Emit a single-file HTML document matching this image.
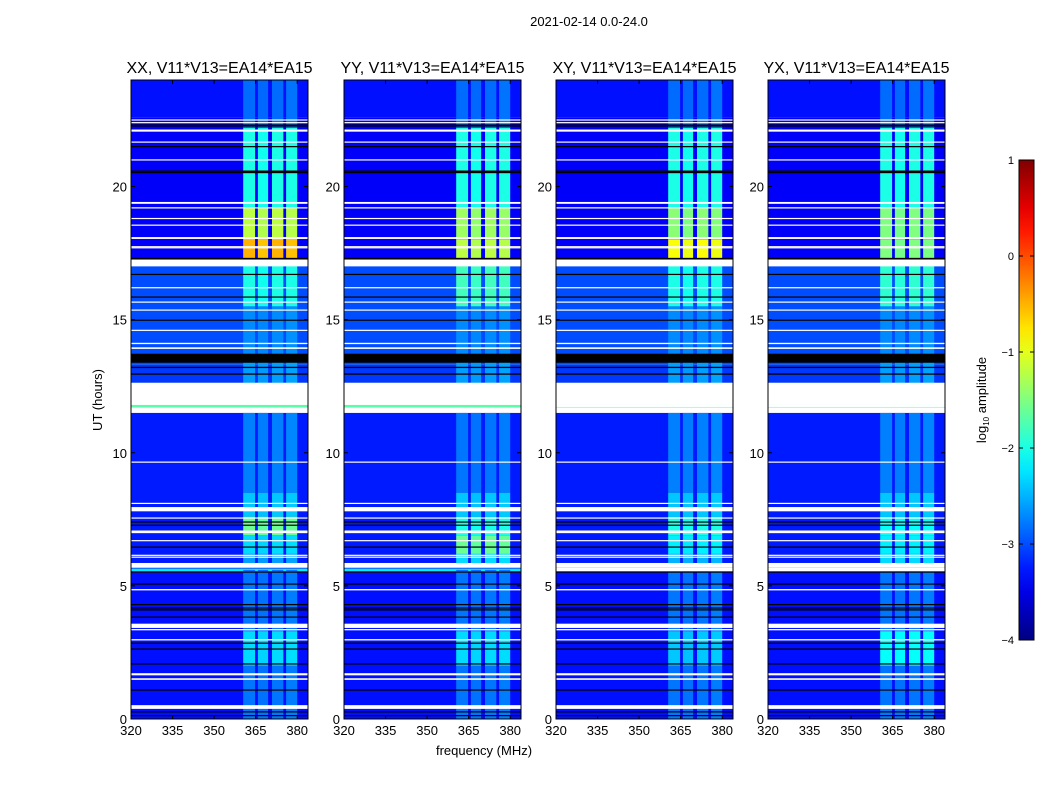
<!DOCTYPE html>
<html><head><meta charset="utf-8"><style>
body{margin:0;background:#fff;font-family:"Liberation Sans",sans-serif}
svg text{font-family:"Liberation Sans",sans-serif}
</style></head><body>
<svg id="fig" width="1050" height="800" xmlns="http://www.w3.org/2000/svg">
<rect width="1050" height="800" fill="#fff"/>
<text x="589" y="26" font-size="13" text-anchor="middle">2021-02-14 0.0-24.0</text>
<text transform="translate(102,400) rotate(-90)" font-size="13" text-anchor="middle">UT (hours)</text>
<text x="484" y="755" font-size="13" text-anchor="middle">frequency (MHz)</text>
<g id="panels"></g>
<g id="cbar"></g>
</svg>
<script>
const panelTitles = ["XX, V11*V13=EA14*EA15","YY, V11*V13=EA14*EA15","XY, V11*V13=EA14*EA15","YX, V11*V13=EA14*EA15"];
const xTicks = [320,335,350,365,380];
const yTicks = [0,5,10,15,20];
const cbTicks = [1,0,-1,-2,-3,-4];
// background log10 amplitude segments [start hour, end hour, value]
const bgSegs = [[0,5.6,-3.3],[5.55,5.65,-2.2],[5.65,11.5,-3.25],[11.7,11.8,-1.7],[12.6,13.3,-3.1],[13.3,17.3,-3.0],[17.3,22.6,-3.4],[22.6,24,-3.3]];
// RFI sub-bands [start MHz, end MHz, relative weight]
const bands = [[360.5,364.8,1.0],[365.8,369.5,0.97],[370.9,375,1.0],[376,380,0.95]];
// RFI band level per panel: [start hour, end hour, value]
const bandXX = [[0,2,-2.8],[2,3.3,-2.3],[3.3,5.6,-2.8],[5.8,6.2,-2.6],[6.2,6.9,-2.3],[6.9,7.6,-1.6],[7.6,8.5,-2.4],[8.5,11.5,-2.75],[12.6,13.4,-2.6],[13.4,15.5,-2.7],[15.5,17.1,-2.0],[17.3,18.0,-0.5],[18.0,19.2,-1.2],[19.2,22.2,-2.0],[22.2,24,-2.85]];
const bandYY = [[0,2,-2.8],[2,3.3,-2.3],[3.3,5.6,-2.8],[5.8,6.2,-2.3],[6.2,6.9,-1.6],[6.9,7.6,-2.0],[7.6,8.5,-2.4],[8.5,11.5,-2.8],[12.6,13.4,-2.6],[13.4,15.5,-2.7],[15.5,17.1,-1.8],[17.3,18.0,-1.2],[18.0,19.2,-1.35],[19.2,22.2,-2.0],[22.2,24,-2.85]];
const bandXY = [[0,2,-2.8],[2,3.3,-2.4],[3.3,5.6,-2.8],[5.8,6.2,-2.5],[6.2,6.9,-2.2],[6.9,7.6,-2.0],[7.6,8.5,-2.4],[8.5,11.5,-2.75],[12.6,13.4,-2.6],[13.4,15.5,-2.7],[15.5,17.1,-2.0],[17.3,18.0,-0.9],[18.0,19.2,-1.45],[19.2,22.2,-2.0],[22.2,24,-2.85]];
const bandYX = [[0,2,-2.8],[2,3.3,-2.1],[3.3,5.6,-2.8],[5.8,6.2,-2.3],[6.2,6.9,-2.2],[6.9,7.6,-2.1],[7.6,8.5,-2.4],[8.5,11.5,-2.75],[12.6,13.4,-2.6],[13.4,15.5,-2.7],[15.5,17.1,-1.9],[17.3,18.0,-1.5],[18.0,19.2,-1.5],[19.2,22.2,-2.0],[22.2,24,-2.85]];
const bandLevels = [bandXX,bandYY,bandXY,bandYX];
// flagged (white) and zero (black) time ranges [start, end]
const whiteFlags = [[0.38,0.52],[1.47,1.53],[1.64,1.72],[2.95,3.0],[3.33,3.38],[3.42,3.58],[4.83,4.88],[5.68,5.86],[6.06,6.1],[6.13,6.17],[6.68,6.72],[6.98,7.08],[7.53,7.57],[7.8,7.96],[8.08,8.12],[9.63,9.67],[11.5,11.7],[11.62,11.66],[11.8,12.63],[13.9,13.96],[14.08,14.13],[14.58,14.62],[15.34,15.38],[15.64,15.68],[16.18,16.22],[17.0,17.25],[17.68,17.72],[17.74,17.76],[18.03,18.1],[18.53,18.57],[18.78,18.82],[19.18,19.22],[19.35,19.42],[20.98,21.02],[21.65,21.69],[22.06,22.14],[22.38,22.42],[22.48,22.52]];
// extra flags only in cross-pol panels (XY, YX)
const crossWhiteFlags = [[11.72,11.8],[5.55,5.68]];
const blackFlags = [[0.12,0.15],[0.26,0.29],[1.07,1.11],[2.05,2.09],[2.61,2.65],[2.83,2.87],[3.81,3.85],[4.08,4.12],[4.15,4.19],[4.28,4.32],[5.05,5.09],[5.5,5.54],[6.44,6.48],[7.26,7.3],[7.38,7.42],[12.93,12.98],[13.18,13.23],[13.38,13.72],[14.96,15.0],[15.83,15.87],[16.68,16.72],[17.28,17.32],[20.5,20.6],[21.48,21.52],[22.25,22.33]];

const NS="http://www.w3.org/2000/svg";
const PX=[131,344,556,768], PW=177, PT=80, PB=719;
const X0=320,X1=383.9,H1=24.0;
function xs(p,f){return PX[p]+(f-X0)/(X1-X0)*PW;}
function ys(h){return PB-h/H1*(PB-PT);}
function jet(v){let t=(v+4)/5;t=Math.max(0,Math.min(1,t));
 const c=x=>Math.round(255*Math.max(0,Math.min(1,1.5-Math.abs(4*t-x))));
 return `rgb(${c(3)},${c(2)},${c(1)})`;}
function mk(tag,attrs,parent){const e=document.createElementNS(NS,tag);for(const k in attrs)e.setAttribute(k,attrs[k]);parent.appendChild(e);return e;}
const G=document.getElementById('panels');
for(let p=0;p<4;p++){
 const g=mk('g',{},G);
 
 
 const clipId='c'+p;
 const cp=mk('clipPath',{id:clipId},g);mk('rect',{x:PX[p],y:PT,width:PW,height:PB-PT},cp);
 const hm=mk('g',{'clip-path':`url(#${clipId})`},g);
 
 
 for(const s of bgSegs){const r=mk('rect',{x:PX[p],y:ys(s[1]),width:PW,height:ys(s[0])-ys(s[1]),fill:jet(s[2])},hm);
  }
 for(const s of bandLevels[p]){for(const b of bands){
  const r=mk('rect',{x:xs(p,b[0]),y:ys(s[1]),width:xs(p,b[1])-xs(p,b[0]),height:ys(s[0])-ys(s[1]),fill:jet(s[2]*b[2]+(b[2]<1?-0.1:0))},hm);
  }}
 const wf = p>=2 ? whiteFlags.concat(crossWhiteFlags) : whiteFlags;
 for(const s of wf){const r=mk('rect',{x:PX[p],y:ys(s[1]),width:PW,height:Math.max(1.2,ys(s[0])-ys(s[1])),fill:'#fff'},hm);
  }
 for(const s of blackFlags){const r=mk('rect',{x:PX[p],y:ys(s[1]),width:PW,height:Math.max(1.2,ys(s[0])-ys(s[1])),fill:'#000'},hm);
  }
 const fr=mk('rect',{x:PX[p],y:PT,width:PW,height:PB-PT,fill:'none',stroke:'#000','stroke-width':1},g);
 
 const t=mk('text',{x:PX[p]+PW/2,y:73,'font-size':16,'text-anchor':'middle'},g);t.textContent=panelTitles[p];
 
 for(const f of xTicks){const x=xs(p,f);
  mk('line',{x1:x,x2:x,y1:PB,y2:PB-4,stroke:'#000'},g);mk('line',{x1:x,x2:x,y1:PT,y2:PT+4,stroke:'#000'},g);
  const l=mk('text',{x:x,y:PB+16,'font-size':13,'text-anchor':'middle'},g);l.textContent=f;
  }
 for(const h of yTicks){const y=ys(h);
  mk('line',{x1:PX[p],x2:PX[p]+4,y1:y,y2:y,stroke:'#000'},g);mk('line',{x1:PX[p]+PW,x2:PX[p]+PW-4,y1:y,y2:y,stroke:'#000'},g);
  const l=mk('text',{x:PX[p]-4,y:y+5,'font-size':13,'text-anchor':'end'},g);l.textContent=h;
  }
}
// colorbar
const C=document.getElementById('cbar');
const CX=1019,CW=15,CT=160,CB=640;
function cy(v){return CB-(v+4)/5*(CB-CT);}
const defs=mk('defs',{},C);const lg=mk('linearGradient',{id:'jetg',x1:0,y1:1,x2:0,y2:0},defs);
for(let i=0;i<=20;i++){const v=-4+i/4;mk('stop',{offset:i/20,'stop-color':jet(v)},lg);}
const cbr=mk('rect',{x:CX,y:CT,width:CW,height:CB-CT,fill:'url(#jetg)',stroke:'#000','stroke-width':1},C);

for(const v of cbTicks){const y=cy(v);
 mk('line',{x1:CX,x2:CX+4,y1:y,y2:y,stroke:'#000'},C);mk('line',{x1:CX+CW,x2:CX+CW-4,y1:y,y2:y,stroke:'#000'},C);
 const l=mk('text',{x:CX-5,y:y+4,'font-size':11,'text-anchor':'end'},C);l.textContent=v<0?'\u2212'+(-v):v;
 }
const cl=mk('text',{transform:'translate(986,400) rotate(-90)','font-size':13,'text-anchor':'middle'},C);
cl.innerHTML='log<tspan font-size="8" dy="3">10</tspan><tspan dy="-3"> amplitude</tspan>';

</script>
</body></html>
